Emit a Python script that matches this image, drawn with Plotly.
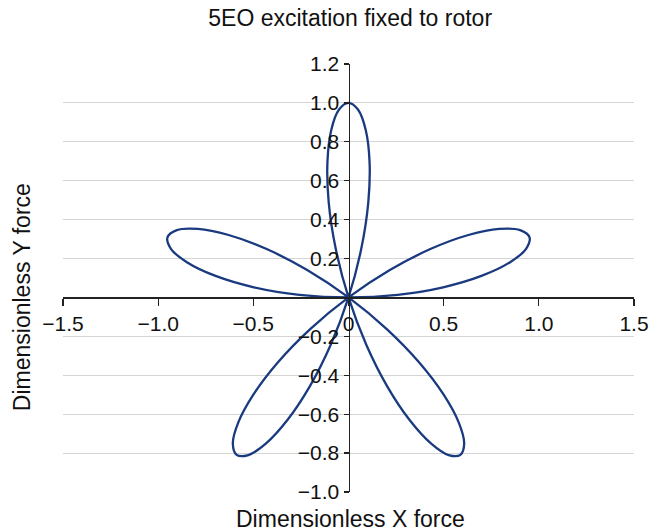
import plotly.graph_objects as go

# Curve points (five-petal rose traced once)
x_force = [
    0.0, 0.2584, 0.4973, 0.6984, 0.8470, 0.9330, 0.9511, 0.9018, 0.7911, 0.6300, 0.4330, 0.2171,
    0.0, -0.2011, -0.3716, -0.5000, -0.5794, -0.6078, -0.5878, -0.5260, -0.4330, -0.3210, -0.2034, -0.0928,
    0.0, 0.0670, 0.1040, 0.1106, 0.0905, 0.0505, 0.0, -0.0505, -0.0905, -0.1106, -0.1040, -0.0670,
    0.0, 0.0928, 0.2034, 0.3210, 0.4330, 0.5260, 0.5878, 0.6078, 0.5794, 0.5000, 0.3716, 0.2011,
    0.0, -0.2171, -0.4330, -0.6300, -0.7911, -0.9018, -0.9511, -0.9330, -0.8470, -0.6984, -0.4973, -0.2584,
    0.0,
]
y_force = [
    0.0, 0.0135, 0.0523, 0.1106, 0.1800, 0.2500, 0.3090, 0.3462, 0.3522, 0.3210, 0.2500, 0.1409,
    0.0, -0.1629, -0.3346, -0.5000, -0.6435, -0.7506, -0.8090, -0.8101, -0.7500, -0.6300, -0.4568, -0.2416,
    0.0, 0.2500, 0.4891, 0.6984, 0.8612, 0.9646, 1.0, 0.9646, 0.8612, 0.6984, 0.4891, 0.2500,
    0.0, -0.2416, -0.4568, -0.6300, -0.7500, -0.8101, -0.8090, -0.7506, -0.6435, -0.5000, -0.3346, -0.1629,
    0.0, 0.1409, 0.2500, 0.3210, 0.3522, 0.3462, 0.3090, 0.2500, 0.1800, 0.1106, 0.0523, 0.0135,
    0.0,
]

x_tickvals = [-1.5, -1.0, -0.5, 0.0, 0.5, 1.0, 1.5]
x_ticktext = ["\u22121.5", "\u22121.0", "\u22120.5", "0", "0.5", "1.0", "1.5"]
y_tickvals = [-1.0, -0.8, -0.6, -0.4, -0.2, 0.2, 0.4, 0.6, 0.8, 1.0, 1.2]
y_ticktext = ["\u22121.0", "\u22120.8", "\u22120.6", "\u22120.4", "\u22120.2",
              "0.2", "0.4", "0.6", "0.8", "1.0", "1.2"]

title_text = "5EO excitation fixed to rotor"
x_title = "Dimensionless X force"
y_title = "Dimensionless Y force"

font_family = "Liberation Sans, Arial, sans-serif"
tick_size = 21
title_size = 23

fig = go.Figure()

fig.add_trace(go.Scatter(
    x=x_force, y=y_force, mode="lines",
    line=dict(color="#1a3a80", width=2.3, shape="spline", smoothing=1.0),
    hoverinfo="skip", showlegend=False,
))

x_range = [-1.5, 1.5]
y_range = [-1.0, 1.2]

fig.update_layout(
    width=667, height=531,
    margin=dict(l=63, r=33, t=64, b=39),
    paper_bgcolor="white", plot_bgcolor="white",
    font=dict(family=font_family, size=tick_size, color="#111111"),
    showlegend=False,
    title=dict(text=title_text, x=0.525, xanchor="center", y=0.966, yanchor="middle",
               font=dict(family=font_family, size=title_size, color="#111111")),
    xaxis=dict(
        range=x_range, showgrid=False, zeroline=False, automargin=False,
        anchor="free", position=(0 - y_range[0]) / (y_range[1] - y_range[0]),
        showline=True, linecolor="#222222", linewidth=1.3,
        ticks="outside", ticklen=7, tickcolor="#222222", tickwidth=1.3,
        tickvals=x_tickvals, ticktext=x_ticktext,
        tickfont=dict(family=font_family, size=tick_size, color="#111111"),
    ),
    yaxis=dict(
        range=y_range, showgrid=True, gridcolor="#d4d4d4", gridwidth=1,
        zeroline=False, automargin=False,
        anchor="free", position=(0 - x_range[0]) / (x_range[1] - x_range[0]),
        showline=True, linecolor="#222222", linewidth=1.3,
        ticks="outside", ticklen=5, tickcolor="#222222", tickwidth=1.3,
        tickvals=y_tickvals, ticktext=y_ticktext,
        tickfont=dict(family=font_family, size=tick_size, color="#111111"),
    ),
    annotations=[
        dict(text=x_title, xref="paper", yref="paper", x=0.503, y=-0.063,
             xanchor="center", yanchor="middle", showarrow=False,
             font=dict(family=font_family, size=title_size, color="#111111")),
        dict(text=y_title, xref="paper", yref="paper", x=-0.072, y=0.455,
             xanchor="center", yanchor="middle", showarrow=False, textangle=-90,
             font=dict(family=font_family, size=title_size, color="#111111")),
    ],
)

# grid line at y = 0 (no tick label there)
fig.add_shape(type="line", xref="paper", yref="y", x0=0, x1=1, y0=0, y1=0,
              line=dict(color="#d4d4d4", width=1), layer="below")

fig.write_html(
    "out.html",
    config={"displayModeBar": False, "staticPlot": True},
    post_script="document.body.style.margin='0';document.body.style.padding='0';document.body.style.overflow='hidden';",
)
